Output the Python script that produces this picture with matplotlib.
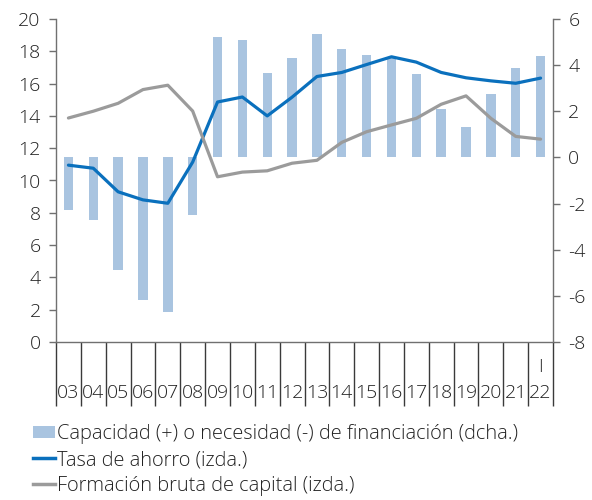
import matplotlib
matplotlib.use("Agg")
import matplotlib.pyplot as plt
from matplotlib.patches import Patch
from matplotlib.lines import Line2D
import matplotlib.transforms as mtransforms

plt.rcParams['font.family'] = ['Open Sans', 'DejaVu Sans']
plt.rcParams['font.weight'] = 'light'
plt.rcParams['axes.unicode_minus'] = False

years = ['03', '04', '05', '06', '07', '08', '09', '10', '11', '12',
         '13', '14', '15', '16', '17', '18', '19', '20', '21', '22']
quarter_labels = [''] * 19 + ['I']

capacidad = [-2.26, -2.71, -4.9, -6.17, -6.68, -2.48, 5.2, 5.07, 3.67, 4.3,
             5.35, 4.71, 4.45, 4.3, 3.62, 2.12, 1.33, 2.74, 3.88, 4.39]
tasa_ahorro = [10.95, 10.76, 9.3, 8.8, 8.59, 11.14, 14.86, 15.17, 14.0, 15.16,
               16.44, 16.69, 17.18, 17.66, 17.33, 16.69, 16.36, 16.17, 16.02, 16.34]
formacion = [13.87, 14.29, 14.78, 15.63, 15.9, 14.3, 10.23, 10.52, 10.6, 11.07,
             11.25, 12.36, 13.02, 13.44, 13.85, 14.72, 15.24, 13.85, 12.73, 12.56]

label_bar = 'Capacidad (+) o necesidad (-) de financiación (dcha.)'
label_tasa = 'Tasa de ahorro (izda.)'
label_form = 'Formación bruta de capital (izda.)'

bar_color = '#a9c4e0'
blue = '#0a70bd'
gray = '#9b9b9b'
axis_color = '#707070'
text_color = '#222222'
fs = 14
fs_leg = 14.4

fig = plt.figure(figsize=(5.92, 5.00), dpi=100)
ax = fig.add_axes([56/592, 1-342/500, (553-56)/592, (342-19)/500])
ax2 = ax.twinx()
ax.set_zorder(ax2.get_zorder() + 1)
ax.patch.set_visible(False)

x = list(range(len(years)))
ax2.bar(x, capacidad, width=0.38, color=bar_color, zorder=1)
ax.plot(x, tasa_ahorro, color=blue, lw=2.3, solid_capstyle='round')
ax.plot(x, formacion, color=gray, lw=2.3, solid_capstyle='round')

ax.set_xlim(-0.5, len(years) - 0.5)
ax.set_ylim(0, 20)
ax.set_yticks(range(0, 21, 2))
ax2.set_ylim(-8, 6)
ax2.set_yticks(range(-8, 7, 2))

for a in (ax, ax2):
    a.spines['top'].set_visible(False)
    for s in a.spines.values():
        s.set_color(axis_color)
        s.set_linewidth(1.0)
ax.spines['right'].set_visible(False)
ax2.spines['left'].set_visible(False)
ax2.spines['bottom'].set_visible(False)

ax.tick_params(axis='y', direction='out', length=5, width=1, color=axis_color,
               labelsize=fs, labelcolor=text_color, pad=6)
ax2.tick_params(axis='y', direction='out', length=5, width=1, color=axis_color,
                labelsize=fs, labelcolor=text_color, pad=6)

# x axis: separators at category boundaries
ax.set_xticks([i - 0.5 for i in range(len(years) + 1)])
ax.set_xticklabels([])
ax.tick_params(axis='x', direction='out', length=46, width=1, color='#3a3a3a')

trans = mtransforms.blended_transform_factory(ax.transData, ax.transAxes)
for i, (yr, q) in enumerate(zip(years, quarter_labels)):
    ax.text(i, -51/323, yr, transform=trans, ha='center', va='center',
            fontsize=fs, color=text_color)
    if q:
        ax.text(i, -25/323, q, transform=trans, ha='center', va='center',
                fontsize=fs - 1, color=text_color)

handles = [Patch(facecolor=bar_color, edgecolor='none'),
           Line2D([0], [0], color=blue, lw=2.5),
           Line2D([0], [0], color=gray, lw=2.5)]
fig.legend(handles, [label_bar, label_tasa, label_form], loc='upper left',
           bbox_to_anchor=(33/592, 1-424/500), borderaxespad=0, borderpad=0,
           frameon=False, fontsize=fs_leg, handlelength=1.1, handletextpad=0.1,
           labelspacing=0.3, labelcolor=text_color, handleheight=0.6)

fig.savefig('out.png', dpi=100)
